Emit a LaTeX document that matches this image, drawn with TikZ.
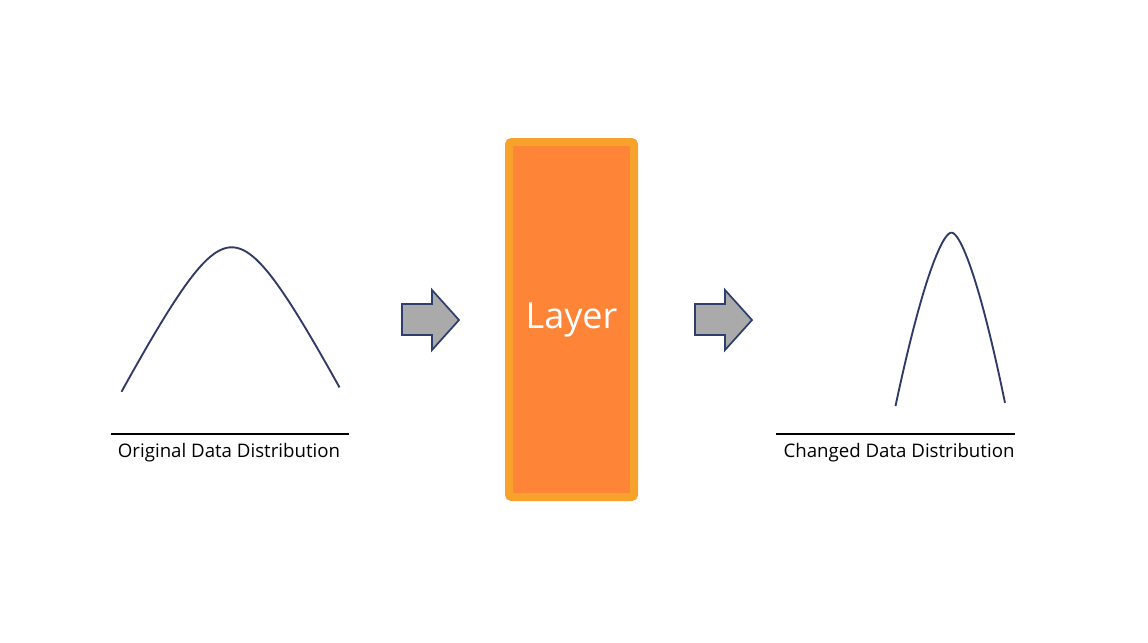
\documentclass[tikz,border=0pt]{standalone}
\usepackage{fontspec}
\setmainfont{Open Sans}
\definecolor{curvecol}{HTML}{2F3B64}
\definecolor{arrowline}{HTML}{2E3F6E}
\definecolor{arrowfill}{HTML}{AAAAAA}
\definecolor{layerfill}{HTML}{FE8538}
\definecolor{layerdraw}{HTML}{F6A22B}
\begin{document}
\begin{tikzpicture}[x=0.75pt,y=-0.75pt,
  curve/.style={draw=curvecol,line width=1.4pt,line join=round},
  baseline rule/.style={draw=black,line width=2.2pt},
  label/.style={font=\fontsize{14}{17}\selectfont,anchor=center,inner sep=0pt},
  blockarrow/.style={draw=arrowline,fill=arrowfill,line width=1.3pt,line join=miter},
  layerbox/.style={draw=layerdraw,fill=layerfill,line width=6pt,rounded corners=2pt,
    minimum width=125*0.75pt,minimum height=355*0.75pt,inner sep=0pt,
    text=white,font=\fontsize{27}{32}\selectfont}]
\useasboundingbox (0,0) rectangle (1148,642);
% left distribution
\draw[curve] plot[domain=121.5:339.5,samples=100,smooth] (\x,{247.3+87.8*(sqrt(1+((\x-231.7)/45)^2)-1)});
\coordinate (l1) at (111,434);
\coordinate (l2) at (349,434);
\draw[baseline rule] (l1) -- (l2);
\node[label] (orig) at (229,453) {Original Data Distribution};
% arrow 1
\draw[blockarrow] (402,304) -- (432,304) -- (432,290) -- (459,320) -- (432,350) -- (432,335) -- (402,335) -- cycle;
% layer
\node[layerbox] (layer) at (571.5,319.5) {Layer};
% arrow 2
\draw[blockarrow] (695,304) -- (725,304) -- (725,290) -- (752,320) -- (725,350) -- (725,335) -- (695,335) -- cycle;
% right distribution
\draw[curve] plot[domain=895.5:1005,samples=120,smooth] (\x,{232.7+(0.42+0.022*(\x>951.5))*((((\x-951.5)^2+16)^0.75)-8)});
\coordinate (r1) at (776,434);
\coordinate (r2) at (1015,434);
\draw[baseline rule] (r1) -- (r2);
\node[label] (chg) at (899,453) {Changed Data Distribution};
\end{tikzpicture}
\end{document}
